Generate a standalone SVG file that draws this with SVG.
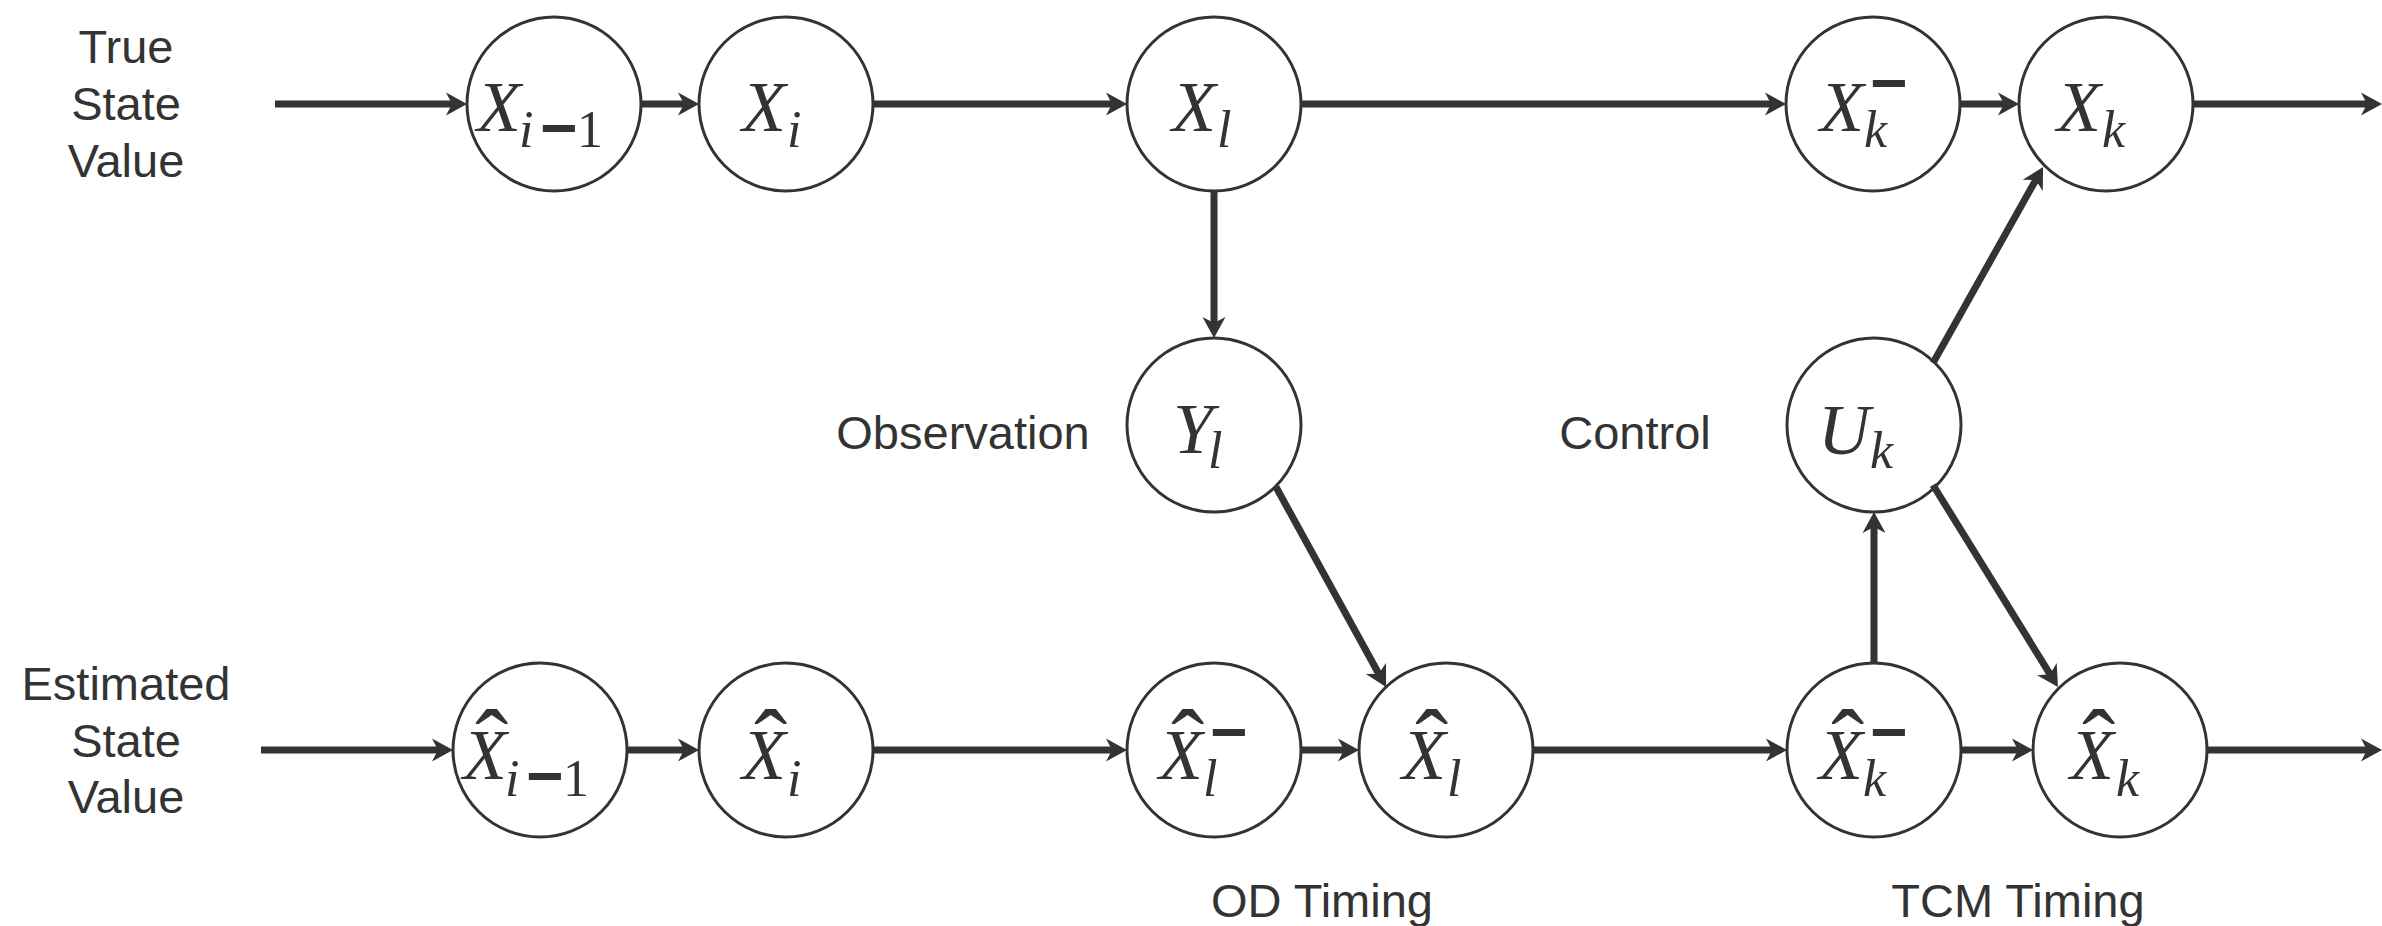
<svg xmlns="http://www.w3.org/2000/svg" width="2382" height="926" viewBox="0 0 2382 926">
<style>
.c{fill:#fff;stroke:#333;stroke-width:3}
.e{stroke:#333;stroke-width:7;fill:none;marker-end:url(#a)}
.m{font-family:"Liberation Serif","Times New Roman",serif;font-style:italic;font-size:72px;fill:#333}
.s{font-size:52px}
.n{font-size:52px;font-style:normal}
.b{font-family:"Liberation Sans",Arial,sans-serif;font-style:normal;font-weight:bold;font-size:64px}
.h{font-style:normal;font-size:100px}
.l{font-family:"Liberation Sans",Arial,sans-serif;font-size:47px;fill:#333;text-anchor:middle}
</style>
<defs>
<marker id="a" markerUnits="userSpaceOnUse" markerWidth="22" markerHeight="24" viewBox="0 0 22 24" refX="7" refY="12" orient="auto">
<path d="M0,0.5 L21,12 L0,23.5 L6,12 Z" fill="#333"/>
</marker>
</defs>

<g id="labels">
<text class="l" x="126" y="63">True</text>
<text class="l" x="126" y="120">State</text>
<text class="l" x="126" y="177">Value</text>
<text class="l" x="126" y="700">Estimated</text>
<text class="l" x="126" y="757">State</text>
<text class="l" x="126" y="813">Value</text>
<text class="l" x="963" y="449">Observation</text>
<text class="l" x="1635" y="449">Control</text>
<text class="l" x="1322" y="917">OD Timing</text>
<text class="l" x="2018" y="917">TCM Timing</text>
</g>

<g id="n-x-i-1">
<circle class="c" cx="554" cy="104" r="87"/>
<text class="m"><tspan x="477" y="131">X</tspan><tspan class="s" x="519" y="147">i</tspan><tspan class="b" x="540" y="150">−</tspan><tspan class="n" x="577" y="147">1</tspan></text>
</g>
<g id="n-x-i">
<circle class="c" cx="786" cy="104" r="87"/>
<text class="m"><tspan x="742" y="131">X</tspan><tspan class="s" x="787" y="147">i</tspan></text>
</g>
<g id="n-x-l">
<circle class="c" cx="1214" cy="104" r="87"/>
<text class="m"><tspan x="1172" y="131">X</tspan><tspan class="s" x="1217" y="147">l</tspan></text>
</g>
<g id="n-x-k-minus">
<circle class="c" cx="1873" cy="104" r="87"/>
<text class="m"><tspan x="1820" y="131">X</tspan><tspan class="b" x="1870" y="105">−</tspan><tspan class="s" x="1864" y="147">k</tspan></text>
</g>
<g id="n-x-k">
<circle class="c" cx="2106" cy="104" r="87"/>
<text class="m"><tspan x="2057" y="131">X</tspan><tspan class="s" x="2102" y="147">k</tspan></text>
</g>
<g id="n-y-l">
<circle class="c" cx="1214" cy="425" r="87"/>
<text class="m"><tspan x="1173" y="453">Y</tspan><tspan class="s" x="1208" y="468">l</tspan></text>
</g>
<g id="n-u-k">
<circle class="c" cx="1874" cy="425" r="87"/>
<text class="m"><tspan x="1818" y="454">U</tspan><tspan class="s" x="1870" y="468">k</tspan></text>
</g>

<g id="n-xh-i-1">
<circle class="c" cx="540" cy="750" r="87"/>
<text class="m"><tspan class="h" x="475" y="779">ˆ</tspan><tspan x="463" y="779">X</tspan><tspan class="s" x="505" y="796">i</tspan><tspan class="b" x="526" y="798">−</tspan><tspan class="n" x="563" y="796">1</tspan></text>
</g>
<g id="n-xh-i">
<circle class="c" cx="786" cy="750" r="87"/>
<text class="m"><tspan class="h" x="754" y="779">ˆ</tspan><tspan x="742" y="779">X</tspan><tspan class="s" x="787" y="796">i</tspan></text>
</g>
<g id="n-xh-l-minus">
<circle class="c" cx="1214" cy="750" r="87"/>
<text class="m"><tspan class="h" x="1171" y="779">ˆ</tspan><tspan x="1159" y="779">X</tspan><tspan class="b" x="1210" y="753.5">−</tspan><tspan class="s" x="1203" y="796">l</tspan></text>
</g>
<g id="n-xh-l">
<circle class="c" cx="1446" cy="750" r="87"/>
<text class="m"><tspan class="h" x="1415" y="779">ˆ</tspan><tspan x="1402" y="779">X</tspan><tspan class="s" x="1447" y="796">l</tspan></text>
</g>
<g id="n-xh-k-minus">
<circle class="c" cx="1874" cy="750" r="87"/>
<text class="m"><tspan class="h" x="1831" y="779">ˆ</tspan><tspan x="1819" y="779">X</tspan><tspan class="b" x="1870" y="753.5">−</tspan><tspan class="s" x="1863" y="796">k</tspan></text>
</g>
<g id="n-xh-k">
<circle class="c" cx="2120" cy="750" r="87"/>
<text class="m"><tspan class="h" x="2082" y="779">ˆ</tspan><tspan x="2070" y="779">X</tspan><tspan class="s" x="2116" y="796">k</tspan></text>
</g>

<g id="connectors">
<line class="e" x1="275" y1="104" x2="453" y2="104"/>
<line class="e" x1="641" y1="104" x2="685" y2="104"/>
<line class="e" x1="873" y1="104" x2="1113" y2="104"/>
<line class="e" x1="1301" y1="104" x2="1772" y2="104"/>
<line class="e" x1="1960" y1="104" x2="2005" y2="104"/>
<line class="e" x1="2193" y1="104" x2="2368" y2="104"/>
<line class="e" x1="261" y1="750" x2="439" y2="750"/>
<line class="e" x1="627" y1="750" x2="685" y2="750"/>
<line class="e" x1="873" y1="750" x2="1113" y2="750"/>
<line class="e" x1="1301" y1="750" x2="1345" y2="750"/>
<line class="e" x1="1533" y1="750" x2="1773" y2="750"/>
<line class="e" x1="1961" y1="750" x2="2019" y2="750"/>
<line class="e" x1="2207" y1="750" x2="2368" y2="750"/>
<line class="e" x1="1214" y1="191" x2="1214" y2="324"/>
<line class="e" x1="1874" y1="663" x2="1874" y2="526"/>
<line class="e" x1="1276" y1="487" x2="1379.3" y2="674.7"/>
<line class="e" x1="1933" y1="363" x2="2036.2" y2="179.2"/>
<line class="e" x1="1933" y1="485" x2="2050.6" y2="675.1"/>
</g>
</svg>
